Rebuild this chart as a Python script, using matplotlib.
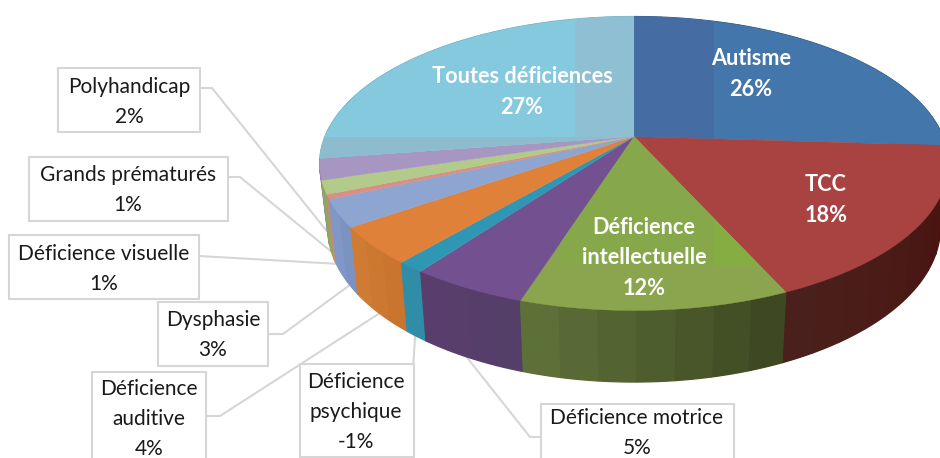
import numpy as np
import matplotlib
matplotlib.use("Agg")
import matplotlib.pyplot as plt
from matplotlib.patches import Polygon, Rectangle
from matplotlib.colors import to_rgb

# ---- data -------------------------------------------------------------
categories = ["Autisme", "TCC", "Déficience\nintellectuelle", "Déficience motrice",
              "Déficience\npsychique", "Déficience\nauditive", "Dysphasie",
              "Déficience visuelle", "Grands prématurés", "Polyhandicap",
              "Toutes déficiences"]
percent_labels = ["26%", "18%", "12%", "5%", "-1%", "4%", "3%", "1%", "1%", "2%", "27%"]
# slice sizes as measured on the drawn pie
slice_shares = [26.0, 17.3, 11.6, 5.1, 1.2, 4.1, 3.0, 0.5, 1.5, 2.3, 27.4]

top_colors = ["#4376ab", "#a84342", "#8aa54d", "#735090", "#2f97b3", "#e0813a",
              "#8ea5d2", "#d98f85", "#b2cb8a", "#a795c2", "#85c9df"]
wall_start = ["#2c4f78", "#4a0f0a", "#3b4621", "#523f66", "#2f8da8", "#c8742c",
              "#7a90bf", "#c98a70", "#8fa860", "#8f80a8", "#6aa5b8"]
wall_end = ["#2c4f78", "#4a211d", "#60733a", "#5a3d6e", "#2f8da8", "#d07c34",
            "#829ac9", "#c98a70", "#8fa860", "#8f80a8", "#6aa5b8"]

# ---- projection of the tilted disc ---------------------------------------
CX, CY = 634.0, 136.5
A, B, K = 309.0, 142.0, 0.1837
DEPTH, SHRINK = 62.0, 0.975


def project(theta, lower=False):
    u, v = np.sin(theta), -np.cos(theta)
    w = 1 - K * v
    if lower:
        return CX + SHRINK * A * u / w, CY + (SHRINK * B * v + DEPTH) / w
    return CX + A * u / w, CY + B * v / w


W, H = 940, 458
fig = plt.figure(figsize=(W / 100, H / 100), dpi=100)
ax = fig.add_axes([0, 0, 1, 1])
ax.set_xlim(0, W)
ax.set_ylim(H, 0)
ax.axis("off")
plt.rcParams["font.family"] = ["Lato", "DejaVu Sans"]

GREY = "#d6d6d6"
LW = 1.5
SIZE = 15.0
SPACING = 1.6

# ---- leader lines and boxes -----------------------------------------------
callouts = {
    3: dict(box=(541, 404, 193, 70), text=(637, 433), line=[(541, 437), (530, 437), (465, 355)]),
    4: dict(box=(300, 364, 114, 93), text=(356, 412), line=[(413, 370), (415, 337)]),
    5: dict(box=(92, 372, 114, 100), text=(149, 419), line=[(206, 416), (220, 416), (380, 313)]),
    6: dict(box=(158, 302, 110, 64), text=(213, 335), line=[(268, 334), (283, 334), (358, 279)]),
    7: dict(box=(9, 235, 190, 64), text=(104, 269), line=[(199, 256), (340, 264)]),
    8: dict(box=(29, 157, 199, 64), text=(128, 190), line=[(228, 177), (240, 177), (333, 253)]),
    9: dict(box=(58, 68, 142, 64), text=(129, 102), line=[(200, 88), (212, 88), (330, 235)]),
}
for i, c in callouts.items():
    xs, ys = zip(*c["line"])
    ax.plot(xs, ys, color=GREY, lw=LW, zorder=1, solid_joinstyle="miter")
    x, y, bw, bh = c["box"]
    ax.add_patch(Rectangle((x, y), bw, bh, fc="white", ec=GREY, lw=LW, zorder=2))
    ax.text(c["text"][0], c["text"][1], f"{categories[i]}\n{percent_labels[i]}",
            ha="center", va="center", fontsize=SIZE, color="#1a1a1a",
            linespacing=SPACING, zorder=3)

# ---- pie -----------------------------------------------------------------
fractions = np.array(slice_shares) / np.sum(slice_shares)
edges = 2 * np.pi * np.concatenate([[0], np.cumsum(fractions)])

# side walls: back to front, each a fan of shaded strips
order = np.argsort([np.cos((edges[i] + edges[i + 1]) / 2) for i in range(len(fractions))])[::-1]
for i in order:
    n = max(2, int(np.degrees(edges[i + 1] - edges[i]) / 6) + 1)
    ts = np.linspace(edges[i], edges[i + 1], n + 1)
    c0, c1 = np.array(to_rgb(wall_start[i])), np.array(to_rgb(wall_end[i]))
    for j in range(n):
        seg = np.linspace(ts[j], ts[j + 1], 8)
        xt, yt = project(seg)
        xb, yb = project(seg, lower=True)
        pts = np.column_stack([np.r_[xt, xb[::-1]], np.r_[yt, yb[::-1]]])
        col = c0 + (c1 - c0) * (j + 0.5) / n
        ax.add_patch(Polygon(pts, fc=col, ec=col, lw=0.9, zorder=4))

# top faces
faces = []
for i in range(len(fractions)):
    ts = np.linspace(edges[i], edges[i + 1], 90)
    xt, yt = project(ts)
    pts = np.column_stack([np.r_[CX, xt], np.r_[CY, yt]])
    p = Polygon(pts, fc=top_colors[i], ec=top_colors[i], lw=0.3, zorder=5)
    ax.add_patch(p)
    faces.append(p)


def tint(face, x0, y0, x1, y1, color):
    r = Rectangle((x0, y0), x1 - x0, y1 - y0, fc=color, ec="none", zorder=6)
    ax.add_patch(r)
    r.set_clip_path(face)


# flat rendering bands of the reference's shaded top
tint(faces[0], CX, 0, 714, CY + 10, "#456da3")
tint(faces[10], 575, 0, CX, CY, "#8fbfd2")
tint(faces[10], 300, CY, CX, 170, "#8cbccd")
tint(faces[2], 560, CY, 714, 265, "#86a84b")
tint(faces[2], 714, CY, 760, 265, "#85ae42")

# inner labels
inner = {0: (751, 74), 1: (826, 200), 2: (644, 258), 10: (522, 92)}
for i, (x, y) in inner.items():
    ax.text(x, y, f"{categories[i]}\n{percent_labels[i]}", ha="center", va="center",
            fontsize=15.6, fontweight="bold", color="white", linespacing=SPACING - 0.05, zorder=8)

fig.savefig("out.png", dpi=100)
